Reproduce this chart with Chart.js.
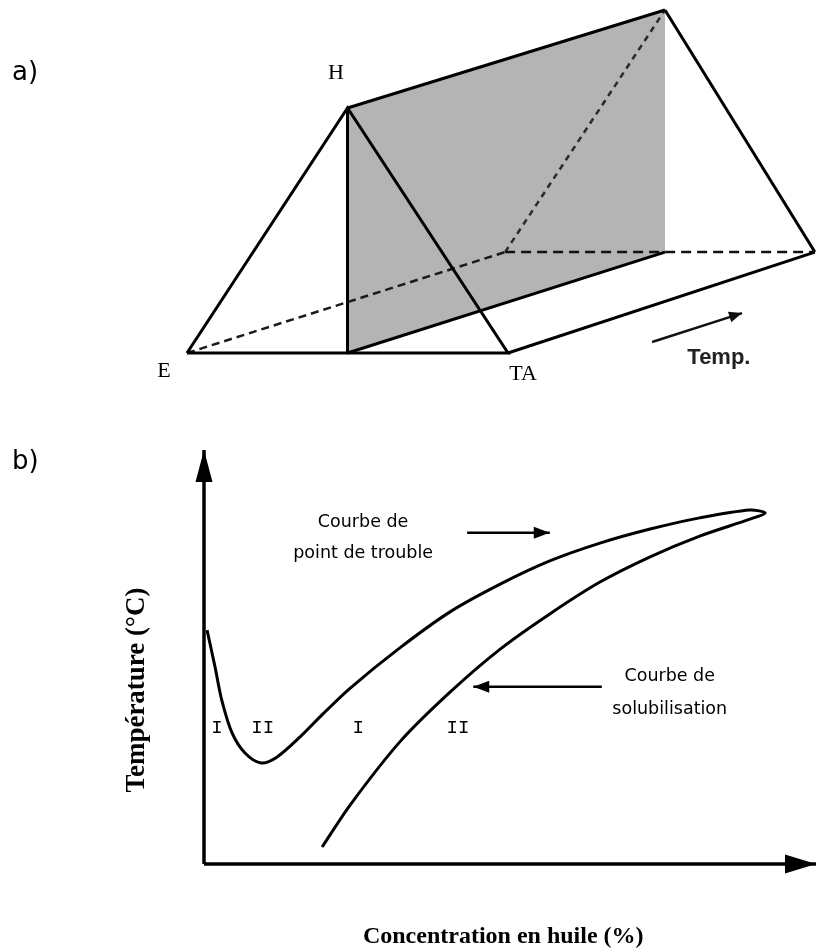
<!DOCTYPE html>
<html>
<head>
<meta charset="utf-8">
<script src="https://cdn.jsdelivr.net/npm/chart.js@4.4.1/dist/chart.umd.min.js"></script>
<style>
  body { margin: 0; background: #fff; }
  #page { position: relative; width: 816px; height: 952px; overflow: hidden; }
  .panel { position: absolute; left: 0; width: 816px; }
  .tag { position: absolute; left: 12px; font-family: 'DejaVu Sans', sans-serif; font-size: 26px; line-height: 1; color: #000; }
</style>
</head>
<body>
<div id="page">
  <div class="panel" style="top:0;height:400px"><canvas id="prismChart" width="816" height="400"></canvas></div>
  <div class="panel" style="top:400px;height:552px"><canvas id="phaseChart" width="816" height="552"></canvas></div>
  <div class="tag" style="top:58px">a)</div>
  <div class="tag" style="top:447px">b)</div>
</div>
<script>
// a) prisme : triangle E / H / TA devant, même triangle à haute température derrière
const frontTriangle = [[0, 0], [50, 100], [100, 0]];            // E, H, TA
const backTriangle = [[99.1, 41.2], [148.9, 140], [195.6, 41.2]];
const sectionPlane = [[50, 100], [148.9, 140], [148.9, 41.2], [50, 0]];
const tempArrow = [[144.9, 4.5], [172.9, 16.3]];

// b) courbe de point de trouble (de l'axe jusqu'à la pointe)
const cloudX = [0.5, 1.8, 2.9, 4.6, 6.7, 9.3, 11.9, 15.7, 19.4, 23.9, 32.0, 40.2, 48.4, 56.5, 64.7, 72.9, 81.0, 89.2, 91.7];
const cloudY = [56.5, 47.6, 39.6, 31.6, 26.8, 24.4, 25.8, 30.7, 36.2, 42.5, 52.2, 60.9, 67.6, 73.2, 77.5, 80.9, 83.6, 85.5, 84.8];
// courbe de solubilisation (du bas jusqu'à la pointe)
const solubX = [19.3, 23.9, 32.0, 40.2, 48.4, 56.5, 64.7, 72.9, 81.0, 89.2];
const solubY = [4.1, 14.3, 29.5, 41.5, 51.9, 60.4, 68.1, 74.2, 79.2, 83.3];

const cloudArrow = [[43.0, 80.0], [56.5, 80.0]];
const solubArrow = [[65.0, 42.8], [44.0, 42.8]];

const comic = "17.5px 'Comic Sans MS', 'DejaVu Sans', sans-serif";
const roman = "19px 'Liberation Mono', 'DejaVu Sans Mono', monospace";

const prismLabels = [
    {text: 'H', x: 46.4, y: 114.3, font: "22px 'Liberation Serif', serif"},
    {text: 'E', x: -7.2, y: -7.3, font: "22px 'Liberation Serif', serif"},
    {text: 'TA', x: 104.7, y: -8.6, font: "22px 'Liberation Serif', serif"},
    {text: 'Temp.', x: 165.7, y: -2.2, font: "bold 22px 'Liberation Sans', sans-serif", color: '#222'}
];

const phaseLabels = [
    {text: 'Courbe de', x: 26.0, y: 82.4, font: comic},
    {text: 'point de trouble', x: 26.0, y: 75.0, font: comic},
    {text: 'Courbe de', x: 76.1, y: 45.2, font: comic},
    {text: 'solubilisation', x: 76.1, y: 37.4, font: comic},
    {text: 'I', x: 2.1, y: 32.9, font: roman},
    {text: 'II', x: 9.6, y: 32.9, font: roman},
    {text: 'I', x: 25.2, y: 32.9, font: roman},
    {text: 'II', x: 41.5, y: 32.9, font: roman},
    {text: 'Concentration en huile (%)', x: 48.9, y: -17.6, font: "bold 24px 'Liberation Serif', serif"},
    {text: 'Température (°C)', x: -10.9, y: 42.0, rotate: -90, font: "bold 27px 'Liberation Serif', serif"}
];

function toPoints(pairs) {
    return pairs.map(([x, y]) => ({x, y}));
}

function seg(pairs, extra) {
    return Object.assign({
        data: toPoints(pairs),
        showLine: true,
        borderColor: '#000',
        borderWidth: 3,
        pointRadius: 0,
        fill: false,
        clip: false,
        order: 0
    }, extra || {});
}

// pointe de flèche pleine au dernier point du dataset
const arrowHeads = {
    id: 'arrowHeads',
    afterDatasetsDraw(chart) {
        const ctx = chart.ctx;
        chart.data.datasets.forEach((ds, i) => {
            if (!ds.arrowHead) return;
            const pts = chart.getDatasetMeta(i).data;
            const tip = pts[pts.length - 1];
            const prev = pts[pts.length - 2];
            const ang = Math.atan2(tip.y - prev.y, tip.x - prev.x);
            const [len, wid] = ds.arrowHead;
            ctx.save();
            ctx.translate(tip.x, tip.y);
            ctx.rotate(ang);
            ctx.beginPath();
            ctx.moveTo(0, 0);
            ctx.lineTo(-len, -wid / 2);
            ctx.lineTo(-len, wid / 2);
            ctx.closePath();
            ctx.fillStyle = ds.borderColor;
            ctx.fill();
            ctx.restore();
        });
    }
};

function labelPlugin(items) {
    return {
        id: 'textLabels',
        afterDatasetsDraw(chart) {
            const {ctx, scales: {x, y}} = chart;
            items.forEach(it => {
                ctx.save();
                ctx.translate(x.getPixelForValue(it.x), y.getPixelForValue(it.y));
                if (it.rotate) ctx.rotate(it.rotate * Math.PI / 180);
                ctx.font = it.font;
                ctx.fillStyle = it.color || '#000';
                ctx.textAlign = 'center';
                ctx.textBaseline = 'middle';
                ctx.fillText(it.text, 0, 0);
                ctx.restore();
            });
        }
    };
}

const baseOptions = {
    responsive: false,
    animation: false,
    devicePixelRatio: 1,
    events: [],
    plugins: {legend: {display: false}, tooltip: {enabled: false}}
};

// ---------- a) ----------
const [E, H, TA] = frontTriangle;
const [bE, bH, bTA] = backTriangle;
const [sTop, sBackTop, sBackBottom, sBottom] = sectionPlane;

new Chart(document.getElementById('prismChart'), {
    type: 'scatter',
    data: {
        datasets: [
            seg([E, H, TA, E]),
            seg([H, bH]),
            seg([bH, bTA]),
            seg([TA, bTA]),
            seg([sTop, sBottom]),
            seg([sBottom, sBackBottom]),
            seg(tempArrow, {borderWidth: 2.5, borderColor: '#111', arrowHead: [13, 11]}),
            seg([E, bE], {borderWidth: 2.5, borderColor: '#1a1a1a', borderDash: [8, 5]}),
            seg([bE, bTA], {borderWidth: 2.5, borderColor: '#111', borderDash: [10, 6]}),
            seg([bE, bH], {borderWidth: 2.5, borderColor: '#2a2a2a', borderDash: [6, 5]}),
            seg([...sectionPlane, sTop], {borderWidth: 0, fill: 'shape', backgroundColor: '#b4b4b4', order: 10})
        ]
    },
    options: Object.assign({}, baseOptions, {
        layout: {padding: 0},
        scales: {
            x: {type: 'linear', min: -58.26, max: 195.95, display: false},
            y: {type: 'linear', min: -19.18, max: 144.08, display: false}
        }
    }),
    plugins: [arrowHeads, labelPlugin(prismLabels)]
});

// ---------- b) ----------
const loopX = cloudX.concat(solubX.slice().reverse());
const loopY = cloudY.concat(solubY.slice().reverse());
const loop = loopX.map((x, i) => [x, loopY[i]]);

new Chart(document.getElementById('phaseChart'), {
    type: 'scatter',
    data: {
        datasets: [
            seg(loop, {tension: 0.3, borderWidth: 3}),
            seg([[0, 0], [100, 0]], {borderWidth: 3.5, arrowHead: [31, 19]}),
            seg([[0, 0], [0, 100]], {borderWidth: 3.5, arrowHead: [32, 17]}),
            seg(cloudArrow, {borderWidth: 2.5, arrowHead: [16, 12]}),
            seg(solubArrow, {borderWidth: 2.5, arrowHead: [16, 12]})
        ]
    },
    options: Object.assign({}, baseOptions, {
        layout: {padding: {left: 204, right: 0, top: 50, bottom: 88}},
        scales: {
            x: {type: 'linear', min: 0, max: 100, display: false},
            y: {type: 'linear', min: 0, max: 100, display: false}
        }
    }),
    plugins: [arrowHeads, labelPlugin(phaseLabels)]
});
</script>
</body>
</html>
